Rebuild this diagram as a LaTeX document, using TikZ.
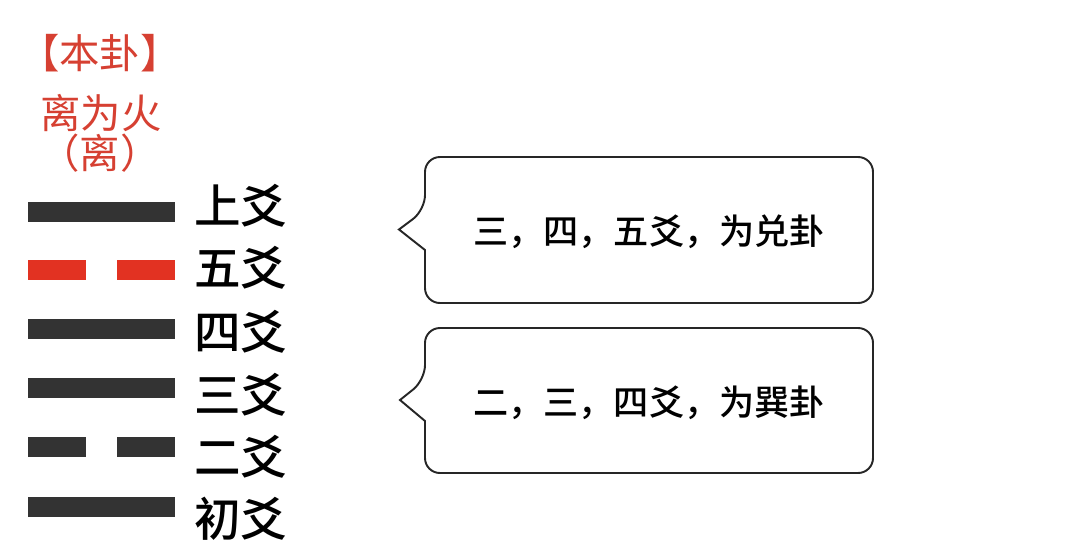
\documentclass[tikz,border=0pt]{standalone}
\usepackage{fontspec}
\usepackage{xcolor}
\usepackage{tikz}
\newfontfamily\cjk{Noto Sans CJK SC}
\newfontfamily\cjkmed{Noto Sans CJK SC Medium}
\definecolor{yaored}{RGB}{226,50,34}
\definecolor{headred}{RGB}{214,64,50}
\definecolor{yaogray}{RGB}{51,51,51}

\begin{document}
\begin{tikzpicture}[x=0.02cm, y=-0.02cm,
  head/.style={font=\cjk\fontsize{23}{26}\selectfont, text=headred, inner sep=0pt},
  yaolabel/.style={font=\cjkmed\fontsize{26.5}{30}\selectfont, inner sep=0pt},
  yang/.style={fill=yaogray},
  yinred/.style={fill=yaored},
  callout/.style={draw=black!85, line width=1.1pt, fill=white},
  callouttext/.style={font=\cjkmed\fontsize{20}{24}\selectfont, inner sep=0pt}
]
  \useasboundingbox (0,0) rectangle (1080,549);

  % Header
  \node[head] (bengua) at (100,53) {【本卦】};
  \node[head] (guaname) at (101,113) {离为火};
  \node[head] (guashort) at (100,153) {（离）};

  % Lines of the hexagram, top to bottom
  \fill[yang]   (28,202) rectangle (175,222);
  \fill[yinred] (28,260) rectangle (86,280);
  \fill[yinred] (117,260) rectangle (175,280);
  \fill[yang]   (28,319) rectangle (175,339);
  \fill[yang]   (28,378) rectangle (175,398);
  \fill[yang]   (28,437) rectangle (86,457);
  \fill[yang]   (117,437) rectangle (175,457);
  \fill[yang]   (28,497) rectangle (175,517);

  % Line names
  \node[yaolabel] (yao6) at (241,206) {上爻};
  \node[yaolabel] (yao5) at (241,268) {五爻};
  \node[yaolabel] (yao4) at (241,332) {四爻};
  \node[yaolabel] (yao3) at (241,395) {三爻};
  \node[yaolabel] (yao2) at (241,457) {二爻};
  \node[yaolabel] (yao1) at (241,519) {初爻};

  % Upper callout (3-4-5)
  \draw[callout] (425,250) [rounded corners=8.5pt] -- (425,303) -- (873,303)
    -- (873,157) -- (425,157) -- (425,210) [sharp corners] -- (399,229.5) -- cycle;
  \node[callouttext] (duinote) at (649,232) {三，四，五爻，为兑卦};

  % Lower callout (2-3-4)
  \draw[callout] (425,421) [rounded corners=8.5pt] -- (425,473) -- (873,473)
    -- (873,328) -- (425,328) -- (425,380) [sharp corners] -- (400,400) -- cycle;
  \node[callouttext] (xunnote) at (649,403) {二，三，四爻，为巽卦};
\end{tikzpicture}
\end{document}
